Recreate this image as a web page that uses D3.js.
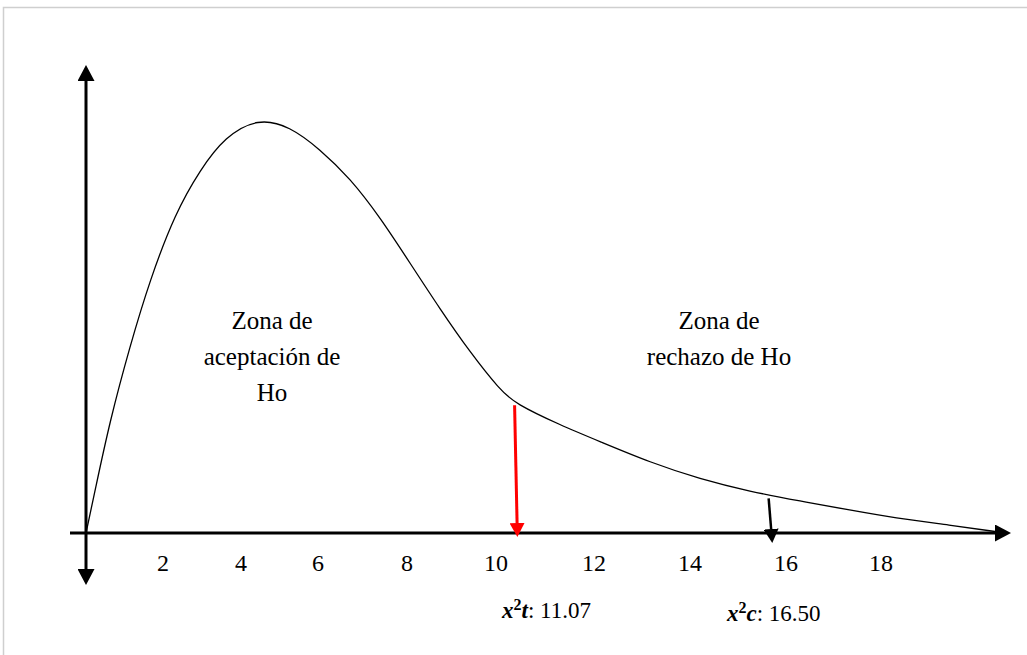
<!DOCTYPE html>
<html>
<head>
<meta charset="utf-8">
<script src="https://cdn.jsdelivr.net/npm/d3@7"></script>
<style>
  body { margin: 0; background: #fff; }
</style>
</head>
<body>
<svg id="chart" width="1027" height="655"></svg>
<script>
// chi-square curve (x in chi units, y relative to the peak)
let curveX = [0, 0.23, 0.62, 1.14, 1.66, 2.31, 2.95, 3.59, 4.44, 5.27, 6.04, 6.72, 7.40, 8.07, 8.74, 9.42, 10.08, 10.39, 11.31, 12.13, 13.17, 14.21, 15.25, 16.29, 17.36, 18.29, 19.45, 20.5];
let curveY = [0, 0.10, 0.27, 0.45, 0.61, 0.77, 0.875, 0.955, 1.0, 0.98, 0.925, 0.855, 0.76, 0.65, 0.54, 0.435, 0.345, 0.312, 0.26, 0.22, 0.17, 0.13, 0.10, 0.077, 0.055, 0.036, 0.019, 0.002];

let tickValues = [2, 4, 6, 8, 10, 12, 14, 16, 18];

// the two critical values and where the arrows are drawn on the axis
let markerNames = ["t", "c"];
let markerValues = ["11.07", "16.50"];
let markerAt = [10.42, 15.68];
let markerColors = ["#ff0000", "#000000"];

let zoneLeft = ["Zona de", "aceptación de", "Ho"];
let zoneRight = ["Zona de", "rechazo de Ho"];

// layout
let originX = 86, baseY = 533, peakY = 118;
// the drawn ticks are not evenly spaced, so the scale is piecewise
let xDomain = [0, 2, 4, 6, 8, 10, 12, 14, 16, 18, 20];
let xRange  = [86, 163, 241, 318, 407, 496, 594, 690, 786, 881, 976];
let serif = "'Liberation Serif', 'Times New Roman', 'DejaVu Serif', serif";

let svg = d3.select("#chart")
	.attr("font-family", serif);

let x = d3.scaleLinear().domain(xDomain).range(xRange);
let y = d3.scaleLinear().domain([0, 1]).range([baseY, peakY]);

// frame
svg.append("rect")
	.attr("x", 3.5).attr("y", 7.5)
	.attr("width", 1100).attr("height", 1000)
	.attr("fill", "none")
	.attr("stroke", "#cfcfcf")
	.attr("stroke-width", 1.5);

let defs = svg.append("defs");
function arrowHead(id, color, w, l){
	defs.append("marker")
		.attr("id", id)
		.attr("markerUnits", "userSpaceOnUse")
		.attr("viewBox", `0 ${-w/2} ${l} ${w}`)
		.attr("refX", 0).attr("refY", 0)
		.attr("markerWidth", l).attr("markerHeight", w)
		.attr("orient", "auto")
		.append("path")
		.attr("d", `M0,${-w/2}L${l},0L0,${w/2}Z`)
		.attr("fill", color);
}
arrowHead("ax", "#000", 17, 16);
arrowHead("mk0", markerColors[0], 15, 14);
arrowHead("mk1", markerColors[1], 15, 14);

// axes
svg.append("line")
	.attr("x1", 70).attr("y1", baseY)
	.attr("x2", 995).attr("y2", baseY)
	.attr("stroke", "#000").attr("stroke-width", 3)
	.attr("marker-end", "url(#ax)");

svg.append("line")
	.attr("x1", originX).attr("y1", baseY)
	.attr("x2", originX).attr("y2", 81)
	.attr("stroke", "#000").attr("stroke-width", 3)
	.attr("marker-end", "url(#ax)");

svg.append("line")
	.attr("x1", originX).attr("y1", baseY)
	.attr("x2", originX).attr("y2", 569)
	.attr("stroke", "#000").attr("stroke-width", 3)
	.attr("marker-end", "url(#ax)");

// tick labels
svg.selectAll(".tick")
	.data(tickValues)
	.enter()
	.append("text")
	.attr("class", "tick")
	.attr("x", d => x(d))
	.attr("y", 571)
	.attr("text-anchor", "middle")
	.attr("font-family", serif)
	.attr("font-size", 24)
	.text(d => d);

// curve
let pts = curveX.map((v, i) => [v, curveY[i]]);
let line = d3.line()
	.x(d => x(d[0]))
	.y(d => y(d[1]))
	.curve(d3.curveBasis);

svg.append("path")
	.attr("d", line(pts))
	.attr("fill", "none")
	.attr("stroke", "#000")
	.attr("stroke-width", 1.3);

// value of the curve at a given x (for the arrow start)
function curveAt(v){
	let i = d3.bisector(d => d[0]).left(pts, v);
	if(i <= 0) return pts[0][1];
	let a = pts[i-1], b = pts[i];
	return a[1] + (b[1] - a[1]) * (v - a[0]) / (b[0] - a[0]);
}

// critical value arrows
let tipY = [baseY + 4, baseY + 10];
markerAt.forEach((v, i) => {
	let top = y(curveAt(v)) + (i === 0 ? 1 : 3);
	svg.append("line")
		.attr("x1", x(v) - 2).attr("y1", top)
		.attr("x2", x(v) + 0.5).attr("y2", tipY[i] - 14)
		.attr("stroke", markerColors[i])
		.attr("stroke-width", i === 0 ? 3 : 2.5)
		.attr("marker-end", `url(#mk${i})`);
});

// critical value labels
let labelX = [502, 727];
let labelY = [618, 621];
markerNames.forEach((n, i) => {
	let t = svg.append("text")
		.attr("x", labelX[i])
		.attr("y", labelY[i])
		.attr("font-family", serif)
		.attr("font-size", 23);
	t.append("tspan")
		.attr("font-weight", "bold").attr("font-style", "italic")
		.text("x");
	t.append("tspan")
		.attr("dy", -8)
		.attr("font-weight", "bold")
		.attr("font-size", 16)
		.text("2");
	t.append("tspan")
		.attr("dy", 8)
		.attr("font-weight", "bold").attr("font-style", "italic")
		.text(n);
	t.append("tspan")
		.text(": " + markerValues[i]);
});

// zone labels
function zone(lines, cx){
	svg.append("g")
		.selectAll("text")
		.data(lines)
		.enter()
		.append("text")
		.attr("x", cx)
		.attr("y", (d, i) => 329 + i * 36)
		.attr("text-anchor", "middle")
		.attr("font-family", serif)
		.attr("font-size", 25)
		.text(d => d);
}
zone(zoneLeft, 272);
zone(zoneRight, 719);
</script>
</body>
</html>
